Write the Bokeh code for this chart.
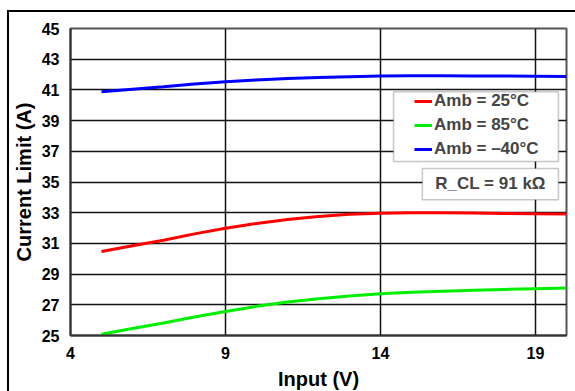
from bokeh.plotting import figure
from bokeh.models import Legend, LegendItem, BoxAnnotation, Label, FixedTicker
from bokeh.embed import file_html
from bokeh.resources import INLINE

# Input voltage (V) and current limit (A) for each ambient temperature
vin = [5, 6, 7, 8, 9, 10, 11, 12, 13, 14, 15, 16, 17, 18, 19, 20]
amb_25 = [30.47, 30.85, 31.2, 31.62, 31.99, 32.3, 32.55, 32.75, 32.9, 32.97,
          33.0, 33.0, 32.98, 32.95, 32.93, 32.92]
amb_85 = [25.08, 25.45, 25.82, 26.2, 26.57, 26.9, 27.18, 27.4, 27.58, 27.72,
          27.82, 27.88, 27.94, 28.0, 28.05, 28.1]
amb_m40 = [40.88, 41.05, 41.2, 41.38, 41.53, 41.65, 41.74, 41.8, 41.86, 41.9,
           41.92, 41.92, 41.91, 41.9, 41.89, 41.88]

series_labels = ["Amb = 25°C", "Amb = 85°C", "Amb = \u201340°C"]
series_colors = ["#ff0000", "#00ee00", "#0000ff"]
x_ticks = [4, 9, 14, 19]
y_ticks = [25, 27, 29, 31, 33, 35, 37, 39, 41, 43, 45]
note_text = "R_CL = 91 k\u03a9"

FONT = "Liberation Sans"

p = figure(width=568, height=381, x_range=(4, 20), y_range=(25, 45),
           output_backend="svg", toolbar_location=None,
           min_border_left=61, min_border_top=16, min_border_right=11,
           min_border_bottom=58,
           styles={"margin-left": "7px", "margin-top": "10px",
                   "border-left": "2px solid black",
                   "border-top": "2px solid black"})

p.outline_line_color = "#555555"
p.outline_line_width = 2

p.xaxis.ticker = FixedTicker(ticks=x_ticks)
p.yaxis.ticker = FixedTicker(ticks=y_ticks)
for ax in (p.xaxis[0], p.yaxis[0]):
    ax.axis_line_color = "#333333"
    ax.axis_line_width = 2
    ax.major_tick_line_color = None
    ax.minor_tick_line_color = None
    ax.major_tick_out = 0
    ax.major_tick_in = 0
    ax.minor_tick_out = 0
    ax.major_label_text_font = FONT
    ax.major_label_text_font_style = "bold"
    ax.major_label_text_font_size = "16px"
    ax.major_label_text_color = "#000000"
    ax.axis_label_text_font = FONT
    ax.axis_label_text_font_style = "bold"
    ax.axis_label_text_font_size = "20px"
    ax.axis_label_text_color = "#000000"

p.xaxis.axis_label = "Input (V)"
p.yaxis.axis_label = "Current Limit (A)"
p.xaxis.major_label_standoff = 11
p.xaxis.axis_label_standoff = 6
p.yaxis.major_label_standoff = 11
p.yaxis.axis_label_standoff = 4

p.xgrid.ticker = FixedTicker(ticks=x_ticks)
p.ygrid.ticker = FixedTicker(ticks=y_ticks)
for g in (p.xgrid[0], p.ygrid[0]):
    g.grid_line_color = "#111111"
    g.grid_line_width = 1.5

renderers = []
for ys, col in zip([amb_25, amb_85, amb_m40], series_colors):
    r = p.line(vin, ys, line_color=col, line_width=3)
    renderers.append(r)

# Framed boxes for the legend and the resistor note
p.add_layout(BoxAnnotation(left=14.42, right=19.74, bottom=36.33, top=40.88,
                           fill_color="white", fill_alpha=1,
                           line_color="#444444", line_width=1.5))
p.add_layout(BoxAnnotation(left=15.35, right=19.74, bottom=33.85, top=35.88,
                           fill_color="white", fill_alpha=1,
                           line_color="#444444", line_width=1.5))

legend = Legend(items=[LegendItem(label=l, renderers=[r])
                       for l, r in zip(series_labels, renderers)],
                location=(343, 175), padding=1, margin=0, spacing=4,
                label_height=20, glyph_width=18, glyph_height=20,
                label_standoff=2,
                label_text_font=FONT, label_text_font_style="bold",
                label_text_font_size="17px",
                background_fill_alpha=0, border_line_alpha=0)
p.add_layout(legend)

p.add_layout(Label(x=17.55, y=34.88, text=note_text, text_align="center",
                   text_baseline="middle", text_font=FONT,
                   text_font_style="bold", text_font_size="17px"))

open("out.html", "w").write(file_html(p, INLINE))
